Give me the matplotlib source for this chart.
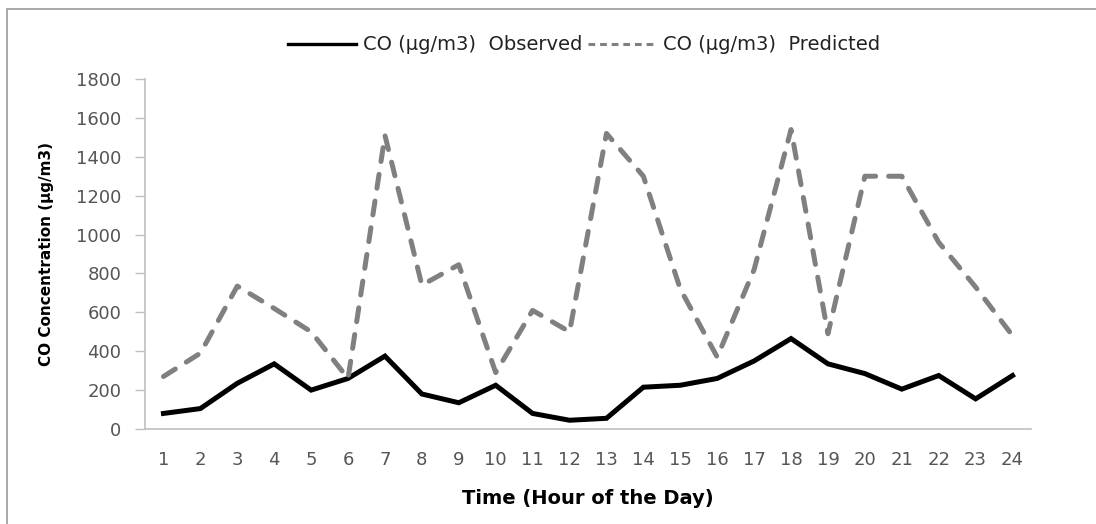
import matplotlib
matplotlib.use("Agg")
import matplotlib.pyplot as plt
from matplotlib.lines import Line2D
from matplotlib.patches import Rectangle

# hourly CO values
hours = list(range(1, 25))
observed = [80, 105, 235, 335, 200, 260, 375, 180, 135, 225, 80, 45,
            55, 215, 225, 260, 350, 465, 335, 285, 205, 275, 155, 275]
predicted = [270, 390, 735, 620, 500, 260, 1510, 740, 845, 290, 610, 500,
             1520, 1300, 720, 370, 820, 1540, 490, 1300, 1300, 960, 730, 480]
yticks = [0, 200, 400, 600, 800, 1000, 1200, 1400, 1600, 1800]
series_names = ['CO (µg/m3)  Observed', 'CO (µg/m3)  Predicted']

plt.rcParams['font.family'] = ['DejaVu Sans']

fig = plt.figure(figsize=(10.96, 5.24), dpi=100)
ax = fig.add_axes([145/1096, 1 - 429/524, (1031 - 145)/1096, 350/524])

# outer chart frame, only top and left edge visible in the crop
fig.patches.append(Rectangle((7/1096, -0.1), 1.2, 1 - 9/524 + 0.1,
                             transform=fig.transFigure, fill=False,
                             edgecolor='#9a9a9a', linewidth=1.2))

ax.plot(hours, observed, color='black', linewidth=3.6, solid_joinstyle='miter')
l2, = ax.plot(hours, predicted, color='#808080', linewidth=3.6)
l2.set_dashes((2.8, 2.6))
l2.set_dash_capstyle('round')

ax.set_xlim(0.5, 24.5)
ax.set_ylim(0, 1800)
ax.set_xticks(hours)
ax.set_yticks(yticks)
ax.tick_params(axis='x', length=0, pad=16, labelsize=13, labelcolor='#555555')
ax.tick_params(axis='y', length=7, width=1, color='#bfbfbf', pad=10,
               labelsize=13, labelcolor='#555555')

for s in ['top', 'right']:
    ax.spines[s].set_visible(False)
for s in ['left', 'bottom']:
    ax.spines[s].set_color('#bfbfbf')
    ax.spines[s].set_linewidth(1.2)

ax.set_ylabel('CO Concentration (µg/m3)', fontsize=11, fontweight='bold',
              labelpad=16)
ax.set_xlabel('Time (Hour of the Day)', fontsize=14, fontweight='bold',
              labelpad=14)

# legend keys are drawn thinner than the plotted lines
h1 = Line2D([], [], color='black', linewidth=2.4)
h2 = Line2D([], [], color='#808080', linewidth=2.2)
h2.set_dashes((2.2, 1.6))
fig.legend(handles=[h1, h2], labels=series_names, loc='center',
           bbox_to_anchor=(584/1096, 1 - 45/524), ncol=2, frameon=False,
           fontsize=14, handlelength=3.5, handletextpad=0.35,
           columnspacing=0.3, labelcolor='#222222')

fig.savefig('out.png', dpi=100)
